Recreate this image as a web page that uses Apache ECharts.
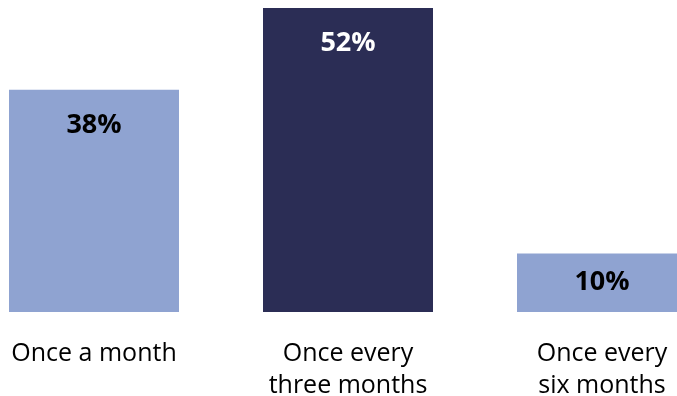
<!DOCTYPE html>
<html>
<head>
<meta charset="utf-8">
<script src="https://cdn.jsdelivr.net/npm/echarts@6/dist/echarts.min.js"></script>
<style>html,body{margin:0;padding:0;background:#fff;overflow:hidden;width:677px;height:396px;position:relative}#c{position:absolute;left:-33px;top:0;width:762px;height:396px}</style>
</head>
<body>
<div id="c"></div>
<script>
const categories = ['Once a month', 'Once every\nthree months', 'Once every\nsix months'];
const values = [38, 52, 10];
const barColors = ['#8FA3D1', '#2B2D55', '#8FA3D1'];
const labelColors = ['#000000', '#FFFFFF', '#000000'];

const chart = echarts.init(document.getElementById('c'));
chart.setOption({
  animation: false,
  grid: { left: 0, right: 0, top: 8, bottom: 84, containLabel: false, outerBoundsMode: 'none' },
  xAxis: {
    type: 'category',
    data: categories,
    axisLine: { show: false },
    axisTick: { show: false },
    axisLabel: {
      margin: 26,
      fontFamily: 'Open Sans',
      fontSize: 25,
      lineHeight: 32,
      color: '#000',
      interval: 0
    }
  },
  yAxis: { type: 'value', min: 0, max: 52, show: false, splitLine: { show: false } },
  series: [{
    type: 'bar',
    barWidth: 170,
    data: values.map((v, i) => ({
      value: v,
      itemStyle: { color: barColors[i] },
      label: {
        show: true,
        position: i === 2 ? 'inside' : 'insideTop',
        distance: 22,
        formatter: '{c}%',
        fontFamily: 'Open Sans',
        fontWeight: 'bold',
        fontSize: 27,
        color: labelColors[i]
      }
    }))
  }]
});
</script>
</body>
</html>
